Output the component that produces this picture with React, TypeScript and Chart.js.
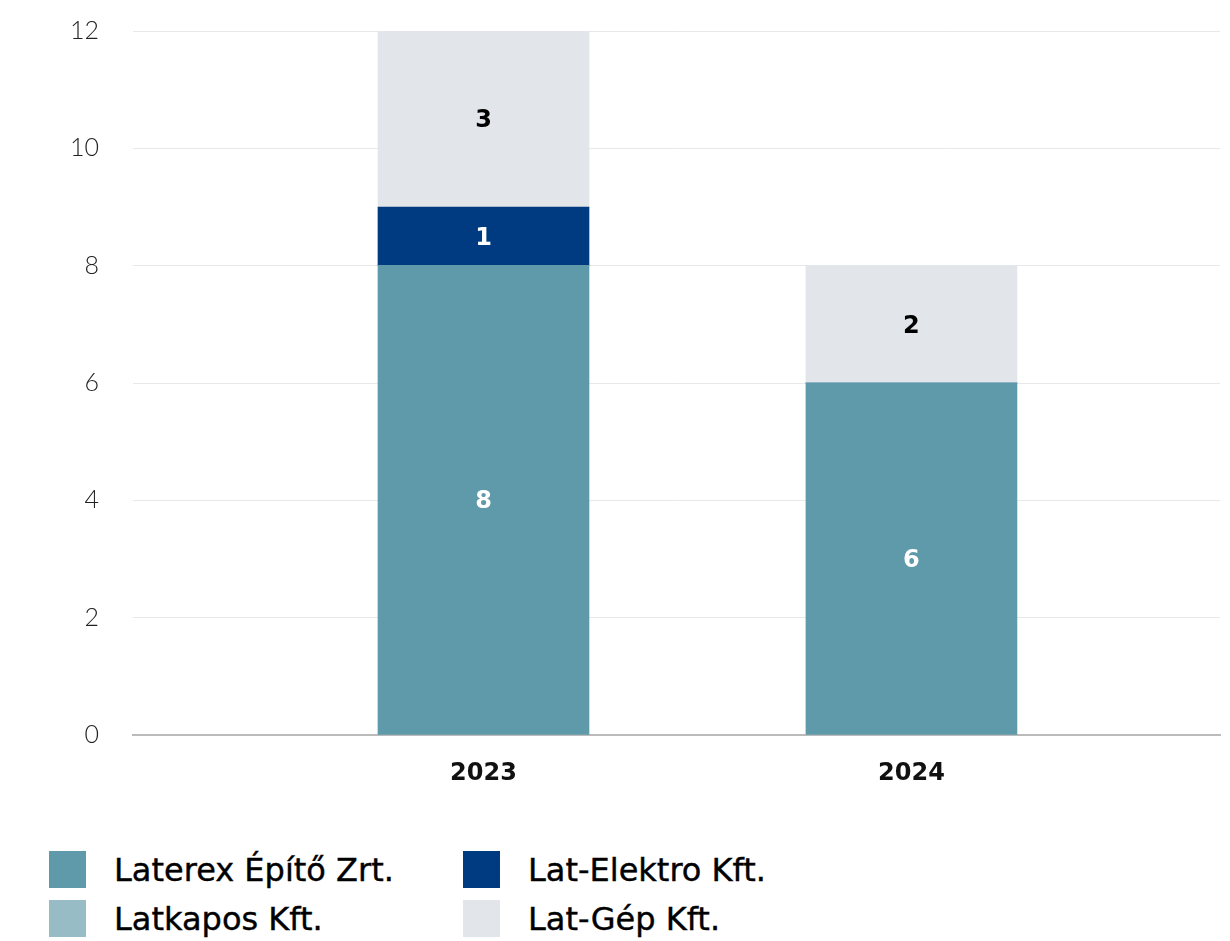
import React, { useEffect, useRef } from "react";
import { Chart, registerables } from "chart.js";

Chart.register(...registerables);

const categories = ["2023", "2024"];
const laterex = [8, 6];
const latkapos = [0, 0];
const latElektro = [1, 0];
const latGep = [3, 2];
const yTicks = [0, 2, 4, 6, 8, 10, 12];

const seriesNames = ["Laterex Építő Zrt.", "Lat-Elektro Kft.", "Latkapos Kft.", "Lat-Gép Kft."];
const seriesColors = ["#5E9AAA", "#003A80", "#98BCC6", "#E2E6EB"];
const labelColors = ["#ffffff", "#ffffff", "#000000", "#000000"];

const valueLabels = {
  id: "valueLabels",
  afterDatasetsDraw(chart: any) {
    const ctx = chart.ctx;
    ctx.save();
    ctx.font = "bold 24px 'DejaVu Sans'";
    ctx.textAlign = "center";
    ctx.textBaseline = "middle";
    chart.data.datasets.forEach((ds: any, di: number) => {
      const meta = chart.getDatasetMeta(di);
      meta.data.forEach((bar: any, i: number) => {
        const v = ds.data[i].y;
        if (!v) return;
        const p = bar.getProps(["x", "y", "base"], true);
        ctx.fillStyle = ds.labelColor;
        ctx.fillText(String(v), p.x, (p.y + p.base) / 2 + 2);
      });
    });
    ctx.restore();
  },
};

export default function App() {
  const ref = useRef<HTMLCanvasElement>(null);
  useEffect(() => {
    const order = [0, 2, 1, 3]; // stacking bottom -> top
    const all = [laterex, latElektro, latkapos, latGep];
    const datasets = order.map((si) => ({
      label: seriesNames[si],
      data: all[si].map((v, i) => ({ x: i, y: v })),
      backgroundColor: seriesColors[si],
      labelColor: labelColors[si],
      borderWidth: 0,
      barThickness: 211,
    }));
    const chart = new Chart(ref.current!, {
      type: "bar",
      data: { datasets: datasets as any },
      plugins: [valueLabels],
      options: {
        animation: false,
        responsive: false,
        maintainAspectRatio: false,
        layout: { padding: { top: 31, right: 10, left: 0, bottom: 0 } },
        plugins: { legend: { display: false }, tooltip: { enabled: false } },
        scales: {
          x: {
            type: "linear",
            stacked: true,
            offset: false,
            min: -0.819,
            max: 1.721,
            afterBuildTicks: (s: any) => {
              s.ticks = categories.map((_, i) => ({ value: i }));
            },
            afterFit: (s: any) => {
              s.height = 95;
              s.paddingLeft = 0;
              s.paddingRight = 0;
            },
            ticks: {
              callback: (v: any) => categories[v] ?? "",
              font: { family: "DejaVu Sans", weight: "bold", size: 24 },
              color: "#111",
              padding: 24,
              maxRotation: 0,
              autoSkip: false,
            },
            grid: { display: false, drawTicks: false },
            border: { display: true, color: "#bbbbbb", width: 2 },
          },
          y: {
            stacked: true,
            min: 0,
            max: 12,
            afterBuildTicks: (s: any) => {
              s.ticks = yTicks.map((v) => ({ value: v }));
            },
            afterFit: (s: any) => {
              s.width = 133;
              s.paddingTop = 0;
              s.paddingBottom = 0;
            },
            ticks: {
              font: { family: "Lato", weight: 300, size: 25 },
              color: "#222",
              padding: 34,
            },
            grid: { color: "#e8e8e8", lineWidth: 1, drawTicks: false },
            border: { display: false },
          },
        },
      },
    });
    return () => chart.destroy();
  }, []);

  const legendItem = (i: number) => (
    <div style={{ display: "flex", alignItems: "center", height: 37 }}>
      <div style={{ width: 37, height: 37, background: seriesColors[i], marginRight: 28, flex: "none" }} />
      <span
        style={{
          fontFamily: "'DejaVu Sans'",
          fontWeight: 400,
          fontSize: 32,
          color: "#000",
          whiteSpace: "nowrap",
          WebkitTextStroke: "0.4px #000",
        }}
      >
        {seriesNames[i]}
      </span>
    </div>
  );

  return (
    <div style={{ position: "fixed", left: 0, top: 0, width: 1230, height: 941, background: "#fff" }}>
      <canvas ref={ref} width={1230} height={830} style={{ display: "block" }} />
      <div style={{ position: "absolute", left: 49, top: 851 }}>{legendItem(0)}</div>
      <div style={{ position: "absolute", left: 463, top: 851 }}>{legendItem(1)}</div>
      <div style={{ position: "absolute", left: 49, top: 900 }}>{legendItem(2)}</div>
      <div style={{ position: "absolute", left: 463, top: 900 }}>{legendItem(3)}</div>
    </div>
  );
}
